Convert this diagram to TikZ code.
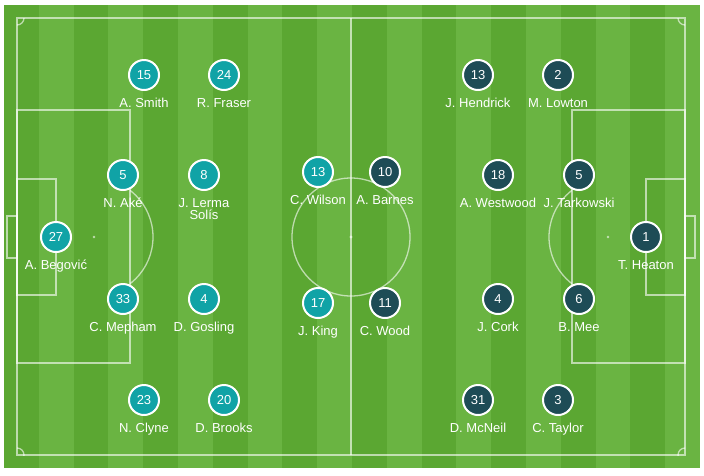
\documentclass[tikz,border=0pt]{standalone}
\usepackage{fontspec}
\setmainfont{Liberation Sans}
\definecolor{grassdark}{RGB}{91,167,50}
\definecolor{grasslight}{RGB}{106,180,66}
\definecolor{homeclr}{RGB}{16,163,166}
\definecolor{awayclr}{RGB}{30,76,86}
\begin{document}
\begin{tikzpicture}[x=1pt,y=-1pt,
  pitchline/.style={white, opacity=0.6, line width=1.3pt},
  homeplayer/.style={circle, fill=homeclr, draw=white, line width=2pt, minimum size=30pt, inner sep=0pt, text=white, font=\fontsize{13}{13}\selectfont},
  awayplayer/.style={homeplayer, fill=awayclr},
  plname/.style={anchor=base, text=white, align=center, inner sep=0pt, font=\fontsize{13}{12}\selectfont}]
% Set the pitch dimensions
\def\stripew{34.8} % width of one grass stripe

\useasboundingbox (0,0) rectangle (704,475);
\fill[white] (0,0) rectangle (704,475);

% Grass stripes
\foreach \i in {0,...,19} {
  \ifodd\i \def\grass{grasslight}\else\def\grass{grassdark}\fi
  \fill[\grass] ({4+\stripew*\i},5) rectangle ({4+\stripew*(\i+1)},468);
}

% Pitch markings
\draw[pitchline] (17,18) rectangle (685,455);
\draw[pitchline] (351,18) -- (351,455);
\draw[pitchline] (351,237) circle[radius=59];
\fill[white, opacity=0.6] (351,237) circle[radius=1.6];
\draw[pitchline] (17,110) rectangle (130,363);
\draw[pitchline] (17,179) rectangle (56,295);
\draw[pitchline] (7,216) rectangle (17,258);
\fill[white, opacity=0.6] (94,237) circle[radius=1.4];
\draw[pitchline] (572,110) rectangle (685,363);
\draw[pitchline] (646,179) rectangle (685,295);
\draw[pitchline] (685,216) rectangle (695,258);
\fill[white, opacity=0.6] (608,237) circle[radius=1.4];
\begin{scope}
\clip (130,18) rectangle (572,455);
\draw[pitchline] (94,237) circle[radius=59];
\draw[pitchline] (608,237) circle[radius=59];
\end{scope}
\begin{scope}
\clip (17,18) rectangle (685,455);
\draw[pitchline] (17,18) circle[radius=7];
\draw[pitchline] (685,18) circle[radius=7];
\draw[pitchline] (17,455) circle[radius=7];
\draw[pitchline] (685,455) circle[radius=7];
\end{scope}

% Home team
\node[homeplayer] (smith) at (144,75) {15};
\node[plname] (smithname) at (144,107) {A. Smith};
\node[homeplayer] (fraser) at (224,75) {24};
\node[plname] (frasername) at (224,107) {R. Fraser};
\node[homeplayer] (ake) at (123,175) {5};
\node[plname] (akename) at (123,207) {N. Aké};
\node[homeplayer] (lerma) at (204,175) {8};
\node[plname] (lermaname) at (204,219) {J. Lerma\\Solís};
\node[homeplayer] (begovic) at (56,237) {27};
\node[plname] (begovicname) at (56,269) {A. Begović};
\node[homeplayer] (mepham) at (123,299) {33};
\node[plname] (mephamname) at (123,331) {C. Mepham};
\node[homeplayer] (gosling) at (204,299) {4};
\node[plname] (goslingname) at (204,331) {D. Gosling};
\node[homeplayer] (wilson) at (318,172) {13};
\node[plname] (wilsonname) at (318,204) {C. Wilson};
\node[homeplayer] (king) at (318,303) {17};
\node[plname] (kingname) at (318,335) {J. King};
\node[homeplayer] (clyne) at (144,400) {23};
\node[plname] (clynename) at (144,432) {N. Clyne};
\node[homeplayer] (brooks) at (224,400) {20};
\node[plname] (brooksname) at (224,432) {D. Brooks};

% Away team
\node[awayplayer] (hendrick) at (478,75) {13};
\node[plname] (hendrickname) at (478,107) {J. Hendrick};
\node[awayplayer] (lowton) at (558,75) {2};
\node[plname] (lowtonname) at (558,107) {M. Lowton};
\node[awayplayer] (westwood) at (498,175) {18};
\node[plname] (westwoodname) at (498,207) {A. Westwood};
\node[awayplayer] (tarkowski) at (579,175) {5};
\node[plname] (tarkowskiname) at (579,207) {J. Tarkowski};
\node[awayplayer] (heaton) at (646,237) {1};
\node[plname] (heatonname) at (646,269) {T. Heaton};
\node[awayplayer] (cork) at (498,299) {4};
\node[plname] (corkname) at (498,331) {J. Cork};
\node[awayplayer] (mee) at (579,299) {6};
\node[plname] (meename) at (579,331) {B. Mee};
\node[awayplayer] (barnes) at (385,172) {10};
\node[plname] (barnesname) at (385,204) {A. Barnes};
\node[awayplayer] (wood) at (385,303) {11};
\node[plname] (woodname) at (385,335) {C. Wood};
\node[awayplayer] (mcneil) at (478,400) {31};
\node[plname] (mcneilname) at (478,432) {D. McNeil};
\node[awayplayer] (taylor) at (558,400) {3};
\node[plname] (taylorname) at (558,432) {C. Taylor};
\end{tikzpicture}
\end{document}
